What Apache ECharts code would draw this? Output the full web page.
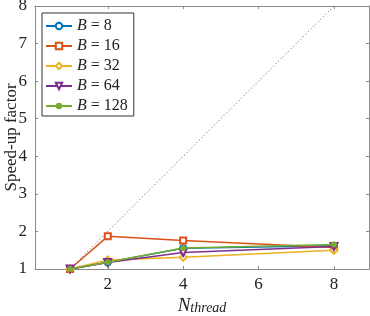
<!DOCTYPE html>
<html>
<head>
<meta charset="utf-8">
<script src="https://cdn.jsdelivr.net/npm/echarts@6/dist/echarts.min.js"></script>
<style>html,body{margin:0;padding:0;background:#fff;}#c{width:370px;height:316px;}</style>
</head>
<body>
<div id="c"></div>
<script>
var threads = [1, 2, 4, 8];
var seriesNames = ['8', '16', '32', '64', '128'];
var b8   = [1, 1.18, 1.55, 1.62];
var b16  = [1, 1.87, 1.76, 1.57];
var b32  = [1, 1.24, 1.31, 1.50];
var b64  = [1, 1.17, 1.44, 1.60];
var b128 = [1, 1.18, 1.56, 1.65];
var ideal = [[1, 1], [8, 8]];
var xTicks = [2, 4, 6, 8];

var colors = ['#0072BD', '#D95319', '#EDB120', '#7E2F8E', '#77AC30'];
var symbols = ['emptyCircle', 'emptyRect', 'emptyDiamond', 'emptyTriangle', 'circle'];
var rotates = [0, 0, 0, 180, 0];
var sizes = [6, 6, 7, 7, 6];
var values = [b8, b16, b32, b64, b128];
var serif = 'Liberation Serif';
var axisCol = '#8a8a8a';

function pts(v) { return threads.map(function (t, i) { return [t, v[i]]; }); }

var series = [{
  type: 'line', name: 'ideal', data: ideal, symbol: 'none', silent: true,
  lineStyle: { color: '#555', width: 1, type: [1, 2.5] }, z: 1
}];
values.forEach(function (v, i) {
  series.push({
    type: 'line', name: 'B = ' + seriesNames[i], data: pts(v),
    symbol: symbols[i], symbolRotate: rotates[i], symbolSize: sizes[i],
    color: colors[i],
    lineStyle: { width: 1.5, color: colors[i] },
    itemStyle: { color: colors[i], borderWidth: 1.3 },
    z: 2 + i
  });
});

function xAx(pos, show) {
  return {
    type: 'value', position: pos, min: 0.07, max: 8.93,
    axisLine: { show: true, onZero: false, lineStyle: { color: axisCol, width: 1 } },
    axisTick: { show: true, inside: true, length: 3, customValues: xTicks, lineStyle: { color: axisCol } },
    axisLabel: { show: show, customValues: xTicks, fontFamily: serif, fontSize: 17, color: '#222', margin: 7 },
    splitLine: { show: false }
  };
}
function yAx(pos, show) {
  return {
    type: 'value', position: pos, min: 1, max: 8, interval: 1,
    axisLine: { show: true, onZero: false, lineStyle: { color: axisCol, width: 1 } },
    axisTick: { show: true, inside: true, length: 3, lineStyle: { color: axisCol } },
    axisLabel: { show: show, fontFamily: serif, fontSize: 17, color: '#222', margin: 8 },
    splitLine: { show: false }
  };
}
var xb = xAx('bottom', true);
xb.name = '{n|N}{s|thread}';
xb.nameLocation = 'middle';
xb.nameGap = 16;
xb.nameMoveOverlap = false;
xb.nameTextStyle = {
  rich: {
    n: { fontFamily: serif, fontStyle: 'italic', fontSize: 19, color: '#222', lineHeight: 30, verticalAlign: 'bottom' },
    s: { fontFamily: serif, fontStyle: 'italic', fontSize: 14, color: '#222', lineHeight: 14, verticalAlign: 'bottom' }
  }
};
var xt = xAx('top', false);
var yl = yAx('left', true);
yl.name = 'Speed-up factor';
yl.nameLocation = 'middle';
yl.nameGap = 15;
yl.nameMoveOverlap = false;
yl.nameTextStyle = { fontFamily: serif, fontSize: 17, color: '#222' };
var yr = yAx('right', false);

var chart = echarts.init(document.getElementById('c'), null, { renderer: 'canvas' });
chart.setOption({
  animation: false,
  backgroundColor: '#fff',
  grid: { left: 35, right: 1, top: 6, bottom: 47, containLabel: false, outerBoundsMode: 'none' },
  xAxis: [xb, xt],
  yAxis: [yl, yr],
  legend: {
    data: seriesNames.map(function (n) { return 'B = ' + n; }),
    orient: 'vertical', left: 42, top: 13,
    itemWidth: 26, itemHeight: 8, itemGap: 4,
    padding: [5, 6, 2, 3],
    borderColor: '#333', borderWidth: 1, backgroundColor: '#fff',
    formatter: function (name) { return '{i|B} = ' + name.split(' = ')[1]; },
    textStyle: {
      fontFamily: serif, fontSize: 16, color: '#222', lineHeight: 15,
      rich: { i: { fontFamily: serif, fontStyle: 'italic', fontSize: 16, color: '#222', lineHeight: 15 } }
    }
  },
  series: series
});
</script>
</body>
</html>
